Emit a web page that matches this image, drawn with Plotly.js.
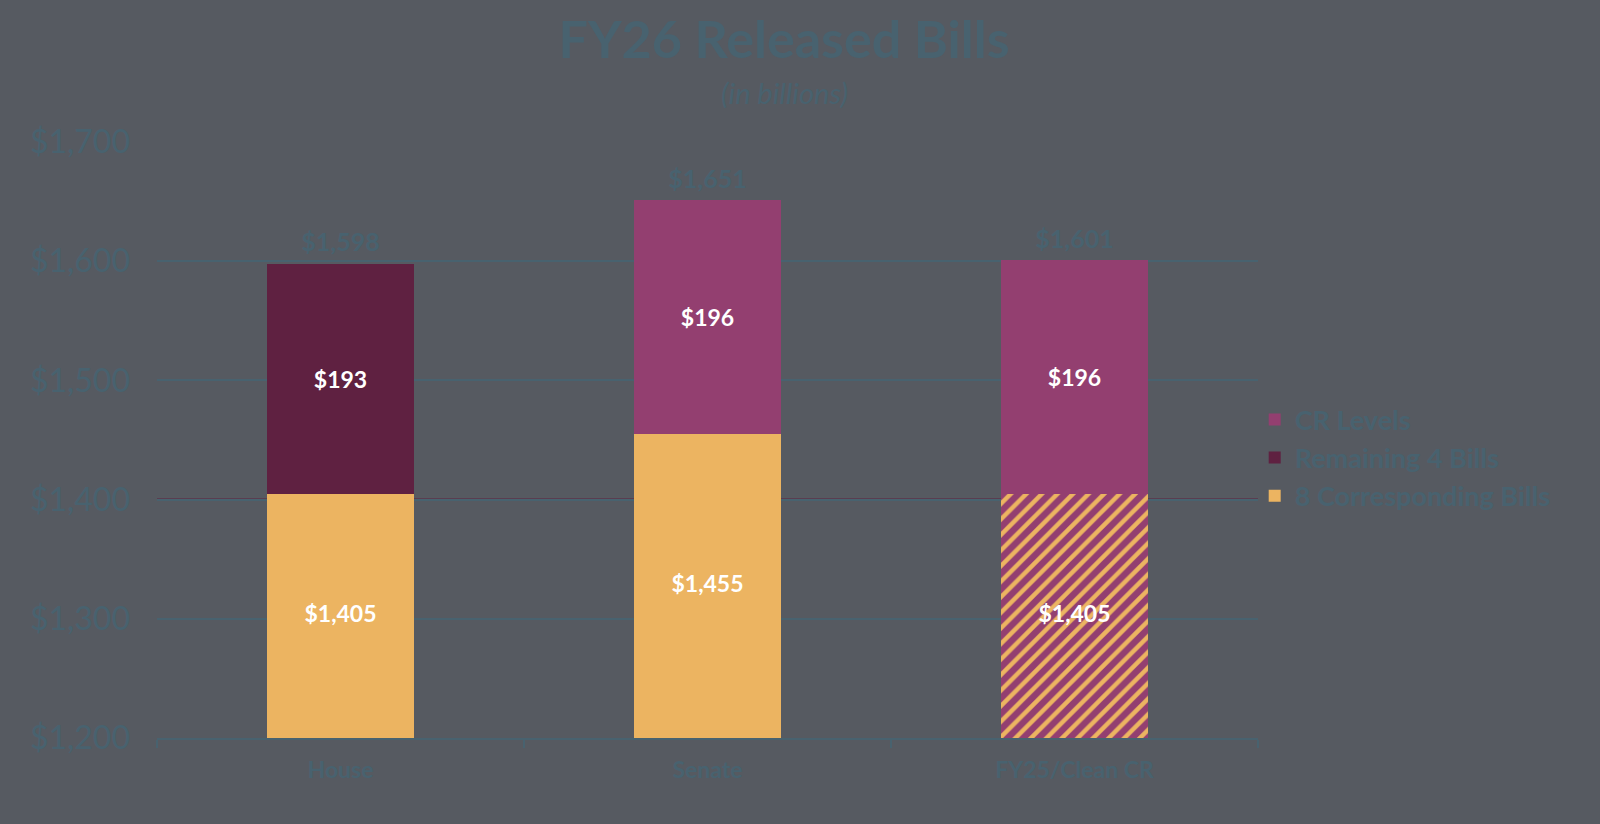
<!DOCTYPE html>
<html>
<head>
<meta charset="utf-8">
<script src="https://cdn.plot.ly/plotly-3.0.1.min.js"></script>
<style>html,body{margin:0;padding:0;background:#565a61;}#chart{width:1600px;height:824px;}</style>
</head>
<body>
<div id="chart"></div>
<script>
const categories = ["House", "Senate", "FY25/Clean CR"];
const correspondingBills = [1405, 1455, 1405];
const remainingCats = ["House"];
const remainingBills = [193];
const crCats = ["Senate", "FY25/Clean CR"];
const crLevels = [196, 196];
const totals = [1598, 1651, 1601];
const yTicks = [1200, 1300, 1400, 1500, 1600, 1700];
const yRange = [1200, 1700];

const BG = "#565a61", TEAL = "#48626f", YEL = "#ecb461", PINK = "#933f70", MAR = "#5f2141";
const FONT = "Lato, 'Open Sans', sans-serif";
const fmt = v => "$" + v.toLocaleString("en-US");
const bold = s => "<b>" + s + "</b>";

const inFont = {family: FONT, size: 23, color: "#ffffff"};

const traces = [
  {
    type: "bar", name: bold("8 Corresponding Bills"), x: categories, y: correspondingBills,
    marker: {color: YEL, line: {width: 0},
      pattern: {shape: ["", "", "/"], fgcolor: PINK, fgopacity: 1,
        size: 11, solidity: 0.6, fillmode: "overlay"}},
    hoverinfo: "skip"
  },
  {
    type: "bar", name: bold("Remaining 4 Bills"), x: remainingCats, y: remainingBills,
    marker: {color: MAR, line: {width: 0}},
    text: remainingBills.map(v => bold(fmt(v))), textposition: "inside", insidetextanchor: "middle",
    textfont: inFont, hoverinfo: "skip"
  },
  {
    type: "bar", name: bold("CR Levels"), x: crCats, y: crLevels,
    marker: {color: PINK, line: {width: 0}},
    text: crLevels.map(v => bold(fmt(v))), textposition: "inside", insidetextanchor: "middle",
    textfont: inFont, hoverinfo: "skip"
  },
  {
    // labels for the lower segments, centred in the visible part of each bar
    type: "scatter", mode: "text", x: categories,
    y: correspondingBills.map(v => (yRange[0] + Math.min(v, yRange[1])) / 2),
    text: correspondingBills.map(v => bold(fmt(v))), textposition: "middle center",
    textfont: inFont, showlegend: false, hoverinfo: "skip"
  },
  {
    type: "scatter", mode: "markers+text", x: categories, y: totals, showlegend: false,
    marker: {size: 8, opacity: 0},
    text: totals.map(v => bold(fmt(v))), textposition: "top center",
    textfont: {family: FONT, size: 25, color: TEAL}, hoverinfo: "skip", cliponaxis: false
  }
];

const layout = {
  width: 1600, height: 824,
  paper_bgcolor: BG, plot_bgcolor: BG,
  margin: {l: 157, r: 342, t: 142, b: 86},
  barmode: "stack", bargap: 0.597,
  showlegend: true,
  title: {text: "<b>FY26 Released Bills</b>",
    x: 0.49, xref: "container", xanchor: "center", y: 0.952, yref: "container", yanchor: "middle",
    font: {family: FONT, size: 52, color: TEAL}},
  annotations: [{text: "<i>(in billions)</i>", xref: "paper", yref: "paper", x: 0.5695, y: 1.083,
    xanchor: "center", yanchor: "middle", showarrow: false,
    font: {family: FONT, size: 29, color: TEAL}}],
  xaxis: {
    type: "category", showgrid: false, zeroline: false,
    showline: true, linecolor: TEAL, linewidth: 2,
    ticks: "outside", tickson: "boundaries", ticklen: 8, tickwidth: 2, tickcolor: TEAL,
    ticktext: categories.map(bold), tickvals: categories, ticklabelstandoff: 10,
    tickfont: {family: FONT, size: 23, color: TEAL}
  },
  yaxis: {
    range: yRange, tickvals: yTicks, ticktext: yTicks.map(fmt),
    showgrid: true, gridcolor: TEAL, gridwidth: 2, zeroline: false, showline: false,
    ticks: "", ticklabelstandoff: 26,
    tickfont: {family: FONT, size: 32, color: TEAL}
  },
  legend: {
    x: 0.997, xanchor: "left", y: 0.47, yanchor: "middle",
    traceorder: "reversed", bgcolor: "rgba(0,0,0,0)",
    font: {family: FONT, size: 27, color: TEAL},
    itemwidth: 30
  },
  shapes: [{type: "line", xref: "paper", x0: 0, x1: 1, yref: "y", y0: yTicks[2], y1: yTicks[2],
    line: {color: MAR, width: 2}, layer: "below"}]
};

Plotly.newPlot("chart", traces, layout, {displayModeBar: false, staticPlot: true});
</script>
</body>
</html>
